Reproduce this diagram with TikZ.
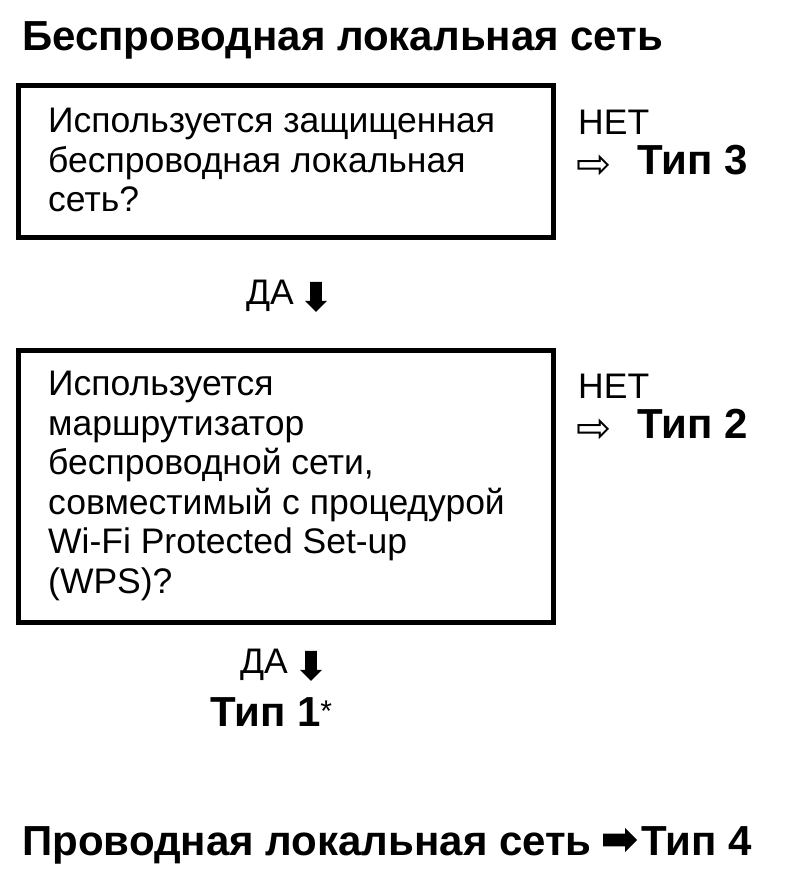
\documentclass[tikz,border=0pt]{standalone}
\usepackage{fontspec}
\setmainfont{Liberation Sans}
\newfontfamily\dvs{DejaVu Sans}
\usetikzlibrary{shapes.arrows}
\begin{document}
\begin{tikzpicture}[x=1pt,y=-1pt,
  qbox/.style={draw,line width=5pt},
  body/.style={anchor=west,inner sep=0pt,font=\fontsize{35.5}{39.5}\selectfont,align=left},
  big/.style={anchor=west,inner sep=0pt,font=\fontsize{42}{46}\selectfont\bfseries},
  wht/.style={anchor=west,inner sep=0pt,font=\dvs\fontsize{42}{46}\selectfont},
  darr/.style={fill=black,single arrow,shape border rotate=270,minimum height=30pt,minimum width=22pt,single arrow head extend=2pt,inner sep=2pt}]
\useasboundingbox (0,0) rectangle (796,880);
\node[big] (t1) at (22,40) {Беспроводная локальная сеть};
\draw[qbox] (18,86) rectangle (553,237);
\node[body] (q1) at (48,160) {Используется защищенная\\беспроводная локальная\\сеть?};
\node[body] (n1) at (578,122) {НЕТ};
\node[wht] (ar1) at (576,167) {⇨};
\node[big] (r1) at (637,160) {Тип 3};
\node[body] (d1) at (246,296) {ДА};
\node[darr] (a1) at (316,294) {};
\draw[qbox] (18,350) rectangle (553,622);
\node[body] (q2) at (48,486) {Используется\\маршрутизатор\\беспроводной сети,\\совместимый с процедурой\\Wi-Fi Protected Set-up\\(WPS)?};
\node[body] (n2) at (578,386) {НЕТ};
\node[wht] (ar2) at (576,431) {⇨};
\node[big] (r2) at (637,424) {Тип 2};
\node[body] (d2) at (240,665) {ДА};
\node[darr] (a2) at (311,663) {};
\node[big] (r3) at (210,712) {Тип 1\raisebox{5pt}{\fontsize{30}{30}\selectfont\mdseries *}};
\node[big,anchor=base west] (w) at (22,855) {Проводная локальная сеть};
\node[fill=black,single arrow,minimum height=34pt,minimum width=24pt,single arrow head extend=2pt,inner sep=2pt] (a3) at (617,840) {};
\node[big,anchor=base west] (r4) at (641,855) {Тип 4};
\end{tikzpicture}
\end{document}
